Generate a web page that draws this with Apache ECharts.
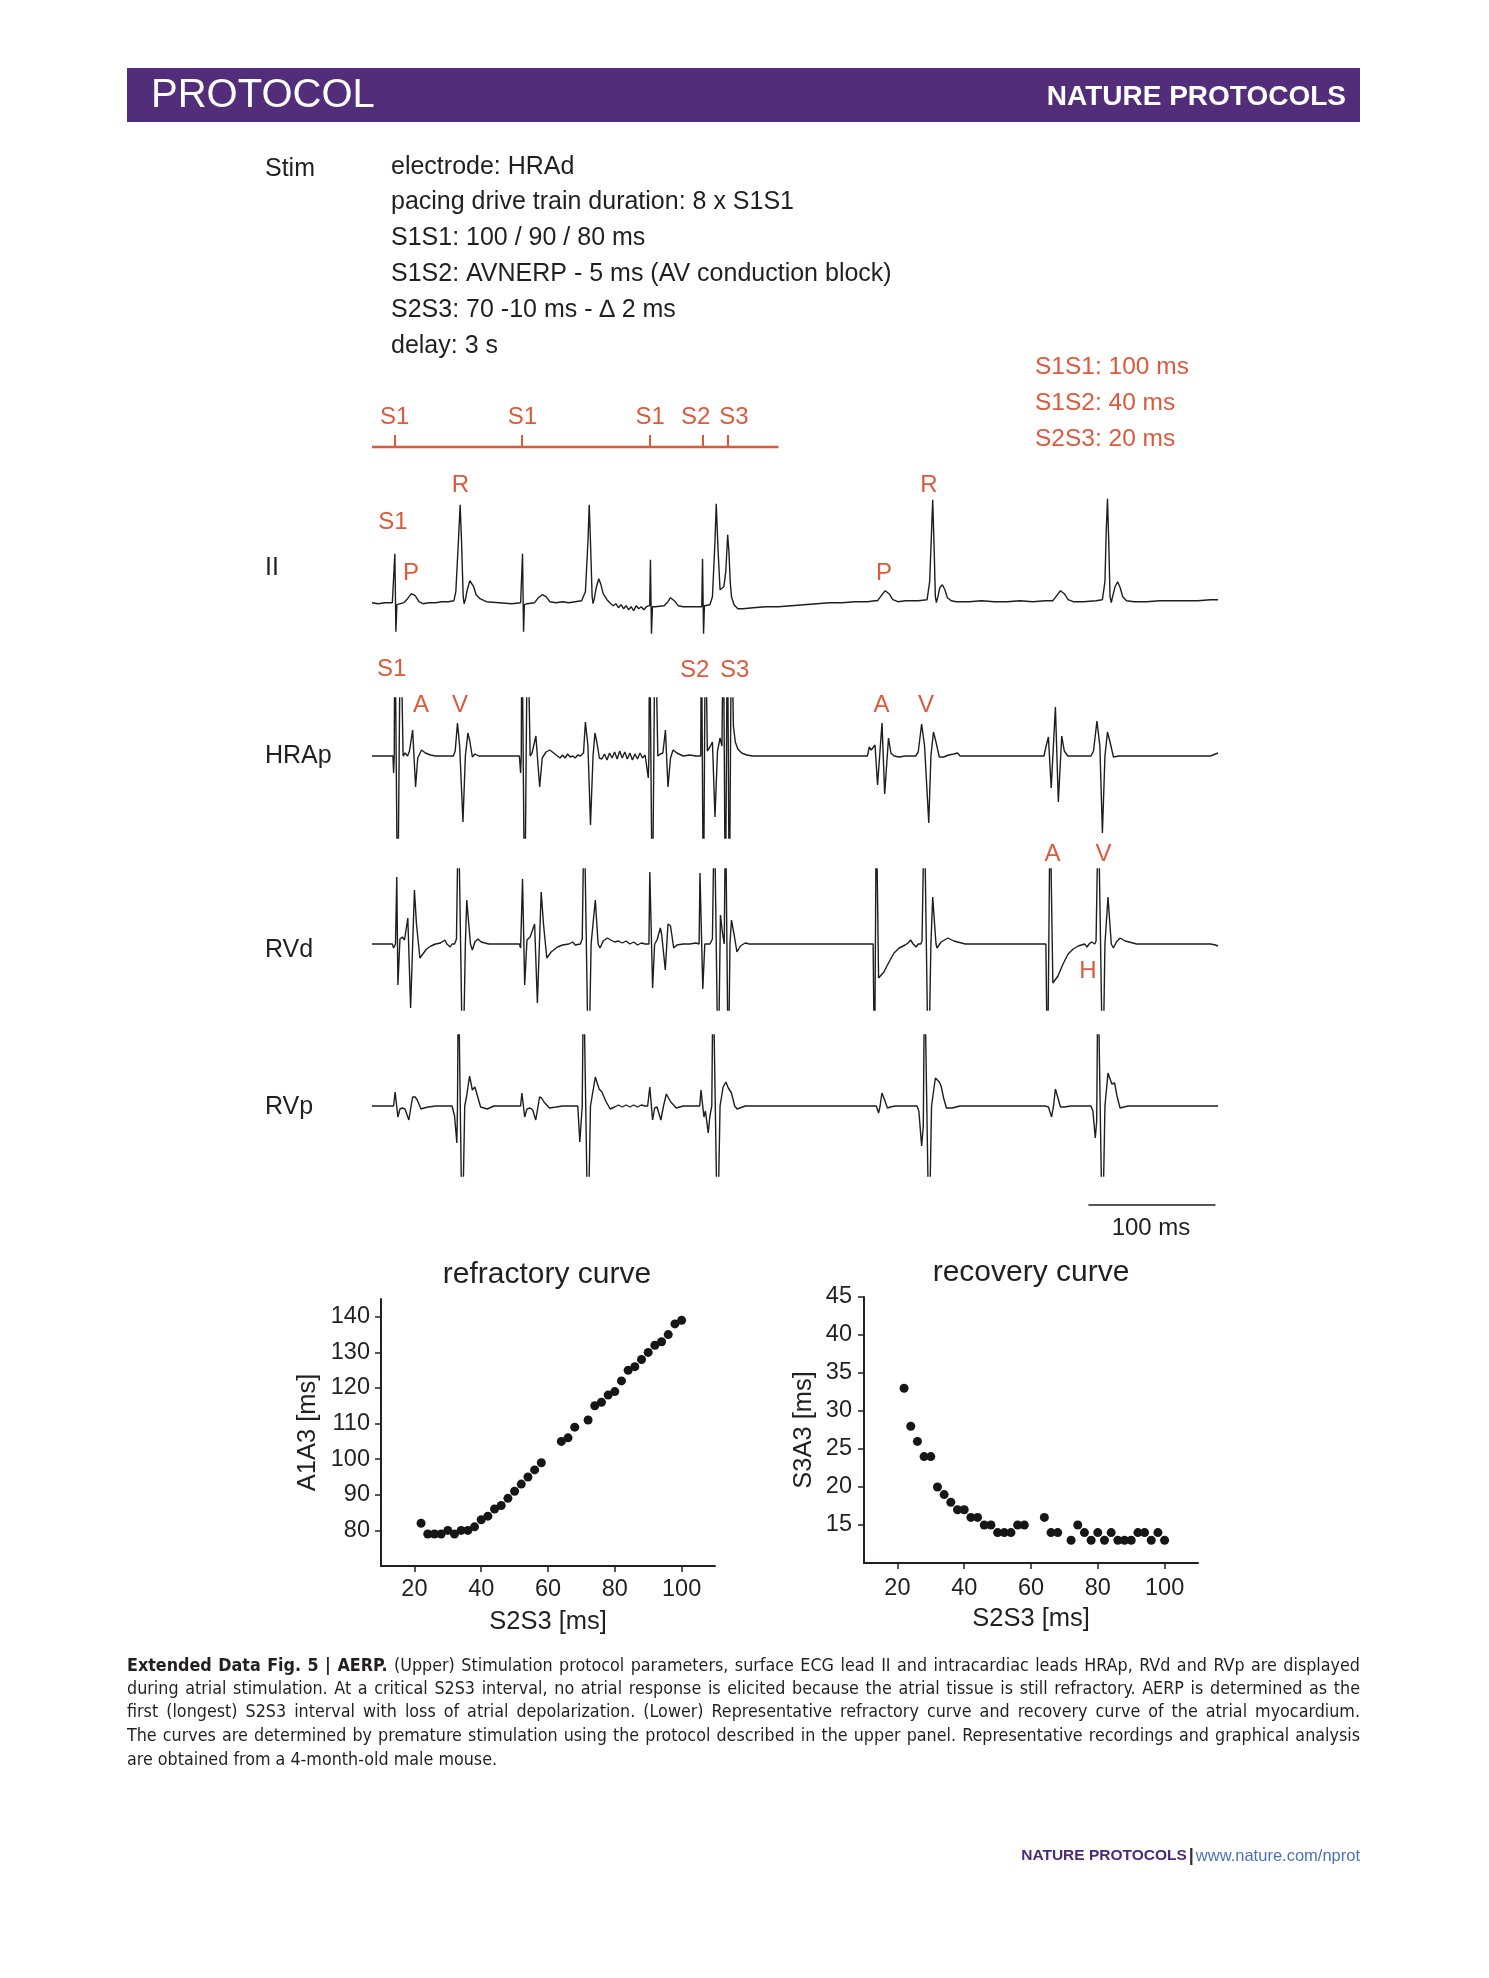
<!DOCTYPE html>
<html><head><meta charset="utf-8">
<script src="https://cdn.jsdelivr.net/npm/echarts@6/dist/echarts.min.js"></script>
<style>html,body{margin:0;padding:0;background:#fff}#chart{width:1489px;height:1978px}</style>
</head><body><div id="chart"></div>
<script>
// ---------------- DATA ----------------
const protocolLines = ['electrode: HRAd','pacing drive train duration: 8 x S1S1','S1S1: 100 / 90 / 80 ms','S1S2: AVNERP - 5 ms (AV conduction block)','S2S3: 70 -10 ms - \u2206 2 ms','delay: 3 s'];
const paramLines = ['S1S1: 100 ms','S1S2: 40 ms','S2S3: 20 ms'];
const rowLabels = ['II','HRAp','RVd','RVp'];
const stimTimes = [18, 118, 219, 260, 280];      // ms
const stimLabels = ['S1','S1','S1','S2','S3'];
const stimLineEnd = 320;                         // ms
const scaleBarStart = 564, scaleBarLength = 100; // ms

// traces: [time ms, amplitude]
const traceII = [[0,-1],[5,-2],[10,-1],[16,-1],[17,-2],[18,48],[18.8,-30],[19.6,-3],[21,-2],[25,-1],[28,3],[31,8],[34,6],[37,0],[40,-2],[45,-1],[50,-1],[55,0],[60,0],[64.5,1],[66,10],[68,60],[69.4,97],[70.5,60],[71.8,5],[72.5,-2],[73.5,2],[75,12],[77,21],[78.5,22],[80,15],[82,7],[85,3],[90,0],[100,-1],[110,-2],[117,-1],[118,-2],[118.5,48],[119.3,-30],[120,-3],[122,-2],[128,-1],[131,4],[134,7],[137,5],[140,0],[145,-1],[150,0],[155,-1],[160,0],[165,1],[166,1],[168,10],[170,60],[171,97],[172,60],[173.3,5],[174,-2],[175,3],[176.5,14],[178.5,23],[180,18],[182,8],[185,2],[188,-2],[190,-4],[192,-2],[194,-6],[196,-3],[198,-7],[200,-4],[202,-8],[204,-5],[206,-9],[208,-4],[210,-7],[212,-5],[214,-8],[216,-5],[218.6,-4],[219.2,42],[220,-32],[220.8,-5],[223,-5],[230,-4],[233,0],[235,4],[238,1],[241,-4],[245,-5],[250,-5],[255,-5],[259.6,-5],[260.2,43],[261,-32],[261.7,-4],[266,-3],[268,5],[270,60],[271,98],[272.5,50],[274,12],[275,12],[277,15],[278.5,30],[280,67],[281,50],[282,20],[283,5],[285,-3],[288,-7],[292,-7],[300,-6],[310,-5],[320,-5],[330,-4],[340,-3],[350,-2],[360,-1],[370,-1],[380,0],[390,0],[396,1],[398,1],[401,6],[404,11],[407,8],[410,2],[414,0],[420,1],[430,1],[437,2],[439,20],[440.5,70],[441.4,102],[442.4,60],[443.5,5],[444.3,-1],[445.5,5],[447,14],[449,17],[451,12],[453,4],[456,1],[460,0],[470,0],[480,1],[490,0],[500,0],[510,1],[520,0],[530,1],[536,1],[539,6],[542,11],[545,8],[548,2],[552,0],[560,0],[570,1],[575,2],[577,20],[578,70],[579,103],[580,60],[581,5],[582,-1],[583,5],[585,15],[587,20],[589,14],[591,5],[594,1],[600,0],[610,0],[620,1],[630,1],[640,1],[650,1],[660,2],[666,2]];

const traceHRAp = [[0,0],[10,0],[16.5,0],[17,-17],[17.5,0],[18,150],[20.2,-170],[22.4,150],[24.5,0],[26,3],[28,0],[29.5,5],[32,26],[34.3,-31],[36,-2],[39,6],[42,3],[46,1],[50,0],[55,0],[60,0],[64,0],[65.5,5],[67.3,33],[69,10],[71.6,-66],[73.5,0],[75.5,23],[77,15],[79,-1],[81,2],[84,0],[90,0],[100,0],[110,0],[116,0],[117,-17],[117.5,0],[118,150],[120.2,-170],[122.4,150],[124.5,0],[126,3],[129,20],[132,-31],[134,-2],[137,4],[140,6],[143,3],[146,0],[148,-2],[150,1],[152,-2],[154,2],[156,-1],[158,0],[160,-2],[162,1],[164,0],[165.5,1],[166.5,3],[168,34],[170,10],[172,-69],[174,0],[175.5,23],[177,14],[179,-2],[181,-3],[183,2],[185,-4],[187,3],[189,-2],[191,4],[193,-3],[195,5],[197,-2],[199,4],[201,-3],[203,3],[205,-4],[207,2],[209,-3],[211,3],[213,-2],[215,1],[216.5,-1],[217.5,-22],[218,0],[218.5,150],[220.7,-170],[222.9,150],[225,0],[227,2],[229,3],[231,26],[233,-31],[235,-2],[237,6],[240,3],[245,0],[250,1],[255,0],[258.8,0],[259.3,150],[260.9,-170],[262.5,150],[264,5],[266,9],[268,14],[270,-61],[272,5],[274,18],[275.5,10],[276.6,150],[278.2,-170],[279.8,150],[281.3,-170],[283,150],[284.5,30],[286,14],[288,7],[291,3],[295,1],[300,0],[320,0],[350,0],[380,0],[390,0],[391.5,9],[393,6],[396,11],[398,-29],[401.5,33],[403.6,-38],[406.6,18],[408.5,3],[411,0],[415,-1],[420,0],[428,0],[430,4],[432.7,32],[435,10],[438.3,-67],[440,0],[442,24],[444,14],[446.6,-1],[450,-1],[454,1],[458,2],[461,3],[463,0],[470,0],[500,0],[529,0],[530.5,9],[532.5,19],[534.7,-32],[538,49],[540.3,-46],[543,20],[545,5],[547.7,0],[555,0],[566,0],[568,5],[570.7,35],[573,10],[575,-77],[577,0],[579,24],[581,14],[583.7,-1],[588,0],[600,0],[630,0],[660,0],[664,2],[666,3]];

const traceRVd = [[0,0],[16,0],[16.5,0],[17,-4],[18.5,0],[19.5,67],[20.4,-41],[22,5],[23.9,7],[25.6,4],[28.2,26],[30.4,-64],[33.4,54],[35,20],[37.7,-14],[40,-10],[43,-5],[46.4,-2],[50,0],[54,1],[57.3,4],[59,0],[61.6,-3],[63,0],[65,0],[66.5,5],[68,140],[71.5,-140],[73.5,0],[74.6,44],[76,42],[77.5,0],[79,-6],[81,2],[83.3,5],[86,2],[92,0],[100,0],[110,0],[116,0],[117,-4],[118.5,65],[120.2,-41],[122,4],[124.5,7],[126,5],[128,20],[130.2,-59],[133.2,52],[135,20],[137.6,-14],[141,-8],[146,-3],[150,-1],[155,0],[158,2],[160,-1],[164,0],[165.5,5],[167,140],[170.5,-140],[172.5,0],[175.8,44],[177,42],[178,0],[179.5,-4],[182,3],[185.3,6],[188,4],[191,2],[194,3],[197,1],[200,3],[203,0],[206,2],[209,-1],[212,1],[215,0],[218,0],[218.7,72],[220.9,-44],[222.5,0],[224.4,4],[227,16],[228,10],[230.9,-26],[233,20],[235,18],[237.5,-4],[240,-1],[245,0],[250,0],[255,1],[257.5,0],[258.2,71],[260.4,-45],[262,0],[263.4,2],[266,0],[268,5],[269.5,140],[272.5,-140],[274.3,29],[276,10],[277.3,0],[278.3,140],[280.5,-140],[281.8,0],[283,24],[285,10],[287.3,-8],[290,-2],[293.8,1],[297,0],[310,0],[350,0],[390,0],[394.5,0],[395.6,-140],[397,140],[398.8,-34],[403,-28],[407,-18],[411,-9],[415,-4],[419.7,-1],[422,1],[424,4],[426,0],[428.3,-3],[430,0],[432,0],[433,3],[434.8,140],[438,-140],[440,0],[441.4,47],[442.5,45],[444,0],[444.8,-4],[448,2],[453.5,6],[458,3],[467,0],[480,0],[500,0],[520,0],[530.5,0],[531.8,-140],[533.8,140],[536,-39],[540,-32],[544,-20],[548,-10],[552,-5],[556,-2],[558.5,-1],[561,0],[562.9,-3],[564.5,0],[566.4,2],[567.5,0],[569,0],[570,3],[571.8,140],[575.3,-140],[577,0],[579.4,47],[580.5,45],[582,0],[583.7,-4],[586,2],[588.9,6],[593,3],[602,0],[620,0],[640,0],[660,0],[664,-1],[666,-2]];

const traceRVp = [[0,0],[17,0],[18.2,14],[20.4,-11],[22,-3],[23.9,-2],[26,-3],[29,-14],[30.5,-2],[32,9],[34,9],[35.6,6],[38.6,-3],[41,-2],[44.3,-1],[50,0],[60,0],[63,0],[65,-10],[66.8,-37],[67.3,0],[68,140],[71,-140],[73,0],[74.5,10],[76.8,30],[79,16],[81,19],[85.5,-1],[90.7,-3],[96,0],[110,0],[117,0],[118,13],[120.2,-11],[122,-3],[124.5,-2],[126.5,-4],[128.9,-14],[130.5,-2],[131.9,9],[133.5,8],[135.4,4],[139.7,-2],[145,-1],[150,0],[160,0],[162,0],[163.6,-36],[165.5,0],[166.5,140],[170,-140],[172,0],[175.8,29],[178.8,17],[181,14],[184,5],[187.5,-3],[191,-1],[194,1],[197,-1],[200,1],[203,-1],[206,1],[209,-1],[212,1],[215,0],[217,0],[218.7,19],[220.9,-14],[222.5,-2],[224.4,-1],[227.4,-14],[229.5,0],[231.7,12],[233,11],[235.2,4],[239.6,-2],[245,0],[250,0],[258,0],[259,16],[261.3,-11],[262.5,-5],[264.7,-27],[266,-10],[267.5,0],[268.5,140],[272,-140],[274,0],[276.4,19],[278.6,24],[280.5,18],[283,13],[285.5,0],[287.5,-3],[293.8,0],[300,0],[350,0],[397,0],[398.8,-7],[400,0],[401.4,13],[403,8],[405.8,-2],[408,-1],[412,0],[420,0],[429,0],[430.5,-5],[432.7,-40],[434,-20],[435,140],[438.5,-140],[440.5,0],[443.5,28],[446.6,24],[448,20],[450,8],[452.2,-2],[456.6,-2],[463,0],[480,0],[510,0],[530,0],[532.5,-1],[535,-11],[536.5,0],[538,17],[540,8],[542,-1],[545,-1],[550,0],[566,0],[567.5,-5],[569.4,-32],[570.5,-15],[571.5,140],[575,-140],[577,0],[579.4,33],[582.4,22],[584.6,23],[586.5,10],[588.9,-2],[592,-1],[595.4,0],[620,0],[650,0],[666,0]];

// refractory curve
const refractoryX = [22,24,26,28,30,32,34,36,38,40,42,44,46,48,50,52,54,56,58,64,66,68,72,74,76,78,80,82,84,86,88,90,92,94,96,98,100];
const refractoryY = [82,79,79,79,80,79,80,80,81,83,84,86,87,89,91,93,95,97,99,105,106,109,111,115,116,118,119,122,125,126,128,130,132,133,135,138,139];
// recovery curve
const recoveryX = [22,24,26,28,30,32,34,36,38,40,42,44,46,48,50,52,54,56,58,64,66,68,72,74,76,78,80,82,84,86,88,90,92,94,96,98,100];
const recoveryY = [33,28,26,24,24,20,19,18,17,17,16,16,15,15,14,14,14,15,15,16,14,14,13,15,14,13,14,13,14,13,13,13,14,14,13,14,13];
const refractoryTicksX = [20,40,60,80,100];
const refractoryTicksY = [80,90,100,110,120,130,140];
const recoveryTicksY = [15,20,25,30,35,40,45];

const captionLines = [
 'Extended Data Fig. 5 | AERP. (Upper) Stimulation protocol parameters, surface ECG lead II and intracardiac leads HRAp, RVd and RVp are displayed',
 'during atrial stimulation. At a critical S2S3 interval, no atrial response is elicited because the atrial tissue is still refractory. AERP is determined as the',
 'first (longest) S2S3 interval with loss of atrial depolarization. (Lower) Representative refractory curve and recovery curve of the atrial myocardium.',
 'The curves are determined by premature stimulation using the protocol described in the upper panel. Representative recordings and graphical analysis',
 'are obtained from a 4-month-old male mouse.'
];
const captionBoldWords = 6;

// ---------------- STYLE / LAYOUT ----------------
const RED = '#dc5a3b', INK = '#231f20', TRACE = '#1e1e1e', PURPLE = '#522e7a';
const SANS = '"Liberation Sans", Arial, sans-serif';

function pickNarrow() {
  const c = document.createElement('canvas').getContext('2d');
  const test = 'mmmmmmmmmmlliiWWWabcdefg';
  c.font = '40px monospace'; const base = c.measureText(test).width;
  for (const f of ['Liberation Sans Narrow', 'DejaVu Sans Condensed', 'Arial Narrow']) {
    c.font = `40px "${f}", monospace`;
    if (Math.abs(c.measureText(test).width - base) > 1) return `"${f}", ${SANS}`;
  }
  return SANS;
}
const NARROW = pickNarrow();

function txt(text, x, y, size, color, align, weight, family) {
  align = align || 'center';
  const font = `${weight || 'normal'} ${size}px ${family || SANS}`;
  return {type: 'text', x, y, silent: true, z: 10,
    style: {text, font, fill: color, align, verticalAlign: 'middle', textAlign: align, textVerticalAlign: 'middle'}};
}

function buildCaption() {
  const ctx = document.createElement('canvas').getContext('2d');
  const left = 127, right = 1360, W = right - left;
  const ys = [1666, 1689, 1712, 1736, 1760];
  const toks = captionLines.map((l, i) => l.split(' ').map((w, j) => ({w, bold: i === 0 && j < captionBoldWords})));
  const fnt = (b, s) => `${b ? 'bold' : 'normal'} ${s}px ${NARROW}`;
  const width = (t, s) => { ctx.font = fnt(t.bold, s); return ctx.measureText(t.w).width; };
  let size = 18;
  let maxW = 0;
  toks.slice(0, 4).forEach(line => {
    ctx.font = fnt(false, size);
    const sp = ctx.measureText(' ').width;
    const tot = line.reduce((a, t) => a + width(t, size), 0) + sp * (line.length - 1);
    maxW = Math.max(maxW, tot);
  });
  if (maxW > W * 0.985) size = size * W * 0.985 / maxW;
  const els = [];
  toks.forEach((line, i) => {
    const ws = line.map(t => width(t, size));
    const sum = ws.reduce((a, b) => a + b, 0);
    ctx.font = fnt(false, size);
    const gap = i < 4 ? (W - sum) / (line.length - 1) : ctx.measureText(' ').width;
    let x = left;
    line.forEach((t, k) => {
      els.push({type: 'text', x, y: ys[i], silent: true,
        style: {text: t.w, font: fnt(t.bold, size), fill: INK, align: 'left', verticalAlign: 'middle'}});
      x += ws[k] + gap;
    });
  });
  return els;
}

const graphics = [
  {type: 'rect', shape: {x: 127, y: 68, width: 1233, height: 54}, style: {fill: PURPLE}, silent: true},
  txt('PROTOCOL', 151, 96, 40, '#ffffff', 'left', 'normal'),
  txt('NATURE PROTOCOLS', 1346, 97, 28, '#ffffff', 'right', 'bold'),
  txt('Stim', 265, 169, 25, INK, 'left'),
];
const protoY = [167, 202, 238.5, 274, 310.5, 346];
protocolLines.forEach((l, i) => graphics.push(txt(l, 391, protoY[i], 25, INK, 'left')));
const paramY = [367, 403, 439];
paramLines.forEach((l, i) => graphics.push(txt(l, 1035, paramY[i], 24.5, RED, 'left')));
const rowY = [568, 756, 950, 1107];
rowLabels.forEach((l, i) => graphics.push(txt(l, 265, rowY[i], 25, INK, 'left')));
const stimLabelPos = [[394.6, 417], [522.4, 417], [650.2, 417], [695.7, 417], [734, 417]];
stimLabels.forEach((l, i) => graphics.push(txt(l, stimLabelPos[i][0], stimLabelPos[i][1], 24, RED)));
[['S1', 393, 522], ['R', 460.5, 485], ['P', 411, 573], ['P', 884, 573], ['R', 929, 485],
 ['S1', 391.6, 669], ['A', 421, 705], ['V', 460, 705], ['S2', 694.6, 670.7], ['S3', 734.6, 670.7], ['A', 881.6, 705], ['V', 926, 705],
 ['A', 1052.6, 854], ['V', 1103.6, 854], ['H', 1088, 971.7]
].forEach(a => graphics.push(txt(a[0], a[1], a[2], 24, RED)));
graphics.push(txt('100 ms', 1151, 1228, 24, INK));
graphics.push(txt('refractory curve', 547, 1275, 30, INK));
graphics.push(txt('recovery curve', 1031, 1273, 30, INK));
graphics.push({type: 'text', x: 1360, y: 1856, silent: true, style: {
  text: '{a|NATURE PROTOCOLS}{b||}{c|www.nature.com/nprot}', align: 'right', verticalAlign: 'middle',
  rich: {a: {fontSize: 15.5, fontWeight: 'bold', fontFamily: SANS, fill: '#4b2a78', color: '#4b2a78'},
         b: {fontSize: 18, fontWeight: 'bold', fontFamily: SANS, fill: '#333', color: '#333', padding: [0, 2]},
         c: {fontSize: 16.5, fontFamily: SANS, fill: '#4a72b5', color: '#4a72b5'}}}});
buildCaption().forEach(e => graphics.push(e));

const traceGrids = [
  {top: 427, height: 30, ymin: 0, ymax: 30},
  {top: 491.7, height: 150, ymin: -40, ymax: 110},
  {top: 698, height: 140, ymin: -82, ymax: 58},
  {top: 869, height: 141, ymin: -66, ymax: 75},
  {top: 1035, height: 141, ymin: -70, ymax: 71},
];
const grids = traceGrids.map(g => ({left: 372, top: g.top, width: 846, height: g.height}));
grids.push({left: 381, top: 1299, width: 334, height: 267});
grids.push({left: 864, top: 1297, width: 334, height: 266});

const xAxes = traceGrids.map((g, i) => ({gridIndex: i, type: 'value', min: 0, max: 666, show: false}));
const yAxes = traceGrids.map((g, i) => ({gridIndex: i, type: 'value', min: g.ymin, max: g.ymax, show: false}));

const axisCommon = {
  axisLine: {show: true, lineStyle: {color: INK, width: 2}},
  splitLine: {show: false},
  nameLocation: 'middle',
  nameTextStyle: {fontSize: 25.5, color: INK, fontFamily: SANS},
};
function sAxisX(gi, margin) {
  return Object.assign({}, axisCommon, {gridIndex: gi, type: 'value', min: 10, max: 110, name: 'S2S3 [ms]', nameGap: 43,
    axisTick: {show: true, customValues: refractoryTicksX, length: 6, lineStyle: {color: INK, width: 1.5}},
    axisLabel: {customValues: refractoryTicksX, fontSize: 23.5, color: INK, fontFamily: SANS, margin}});
}
xAxes.push(sAxisX(5, 12));
xAxes.push(sAxisX(6, 14));
yAxes.push(Object.assign({}, axisCommon, {gridIndex: 5, type: 'value', min: 70, max: 145, name: 'A1A3 [ms]', nameGap: 60, nameRotate: 90,
  axisTick: {show: true, customValues: refractoryTicksY, length: 6, lineStyle: {color: INK, width: 1.5}},
  axisLabel: {customValues: refractoryTicksY, fontSize: 23.5, color: INK, fontFamily: SANS, margin: 11}}));
yAxes.push(Object.assign({}, axisCommon, {gridIndex: 6, type: 'value', min: 10, max: 45, name: 'S3A3 [ms]', nameGap: 47, nameRotate: 90,
  axisTick: {show: true, customValues: recoveryTicksY, length: 6, lineStyle: {color: INK, width: 1.5}},
  axisLabel: {customValues: recoveryTicksY, fontSize: 23.5, color: INK, fontFamily: SANS, margin: 12}}));

function traceSeries(data, idx) {
  return {type: 'line', xAxisIndex: idx, yAxisIndex: idx, data, showSymbol: false, symbol: 'none', clip: true,
    lineStyle: {color: TRACE, width: 1.4}, silent: true, animation: false};
}

const series = [
  {type: 'line', xAxisIndex: 0, yAxisIndex: 0, data: [[0, 10], [stimLineEnd, 10]], symbol: 'none', silent: true,
   lineStyle: {color: RED, width: 2.5},
   markLine: {symbol: ['none', 'none'], silent: true, animation: false, label: {show: false},
     lineStyle: {color: RED, width: 2, type: 'solid'},
     data: stimTimes.map(t => [{coord: [t, 10]}, {coord: [t, 22]}])}},
  traceSeries(traceII, 1),
  traceSeries(traceHRAp, 2),
  traceSeries(traceRVd, 3),
  traceSeries(traceRVp, 4),
  {type: 'line', xAxisIndex: 4, yAxisIndex: 4, data: [[scaleBarStart, -99], [scaleBarStart + scaleBarLength, -99]],
   symbol: 'none', clip: false, silent: true, lineStyle: {color: TRACE, width: 1.5}},
  {type: 'scatter', xAxisIndex: 5, yAxisIndex: 5, data: refractoryX.map((x, i) => [x, refractoryY[i]]),
   symbol: 'circle', symbolSize: 9, itemStyle: {color: '#161616', opacity: 1}, silent: true},
  {type: 'scatter', xAxisIndex: 6, yAxisIndex: 6, data: recoveryX.map((x, i) => [x, recoveryY[i]]),
   symbol: 'circle', symbolSize: 9, itemStyle: {color: '#161616', opacity: 1}, silent: true},
];

const chart = echarts.init(document.getElementById('chart'), null, {renderer: 'canvas', width: 1489, height: 1978});
chart.setOption({
  backgroundColor: '#ffffff',
  animation: false,
  grid: grids,
  xAxis: xAxes,
  yAxis: yAxes,
  series,
  graphic: {elements: graphics},
});
</script></body></html>
